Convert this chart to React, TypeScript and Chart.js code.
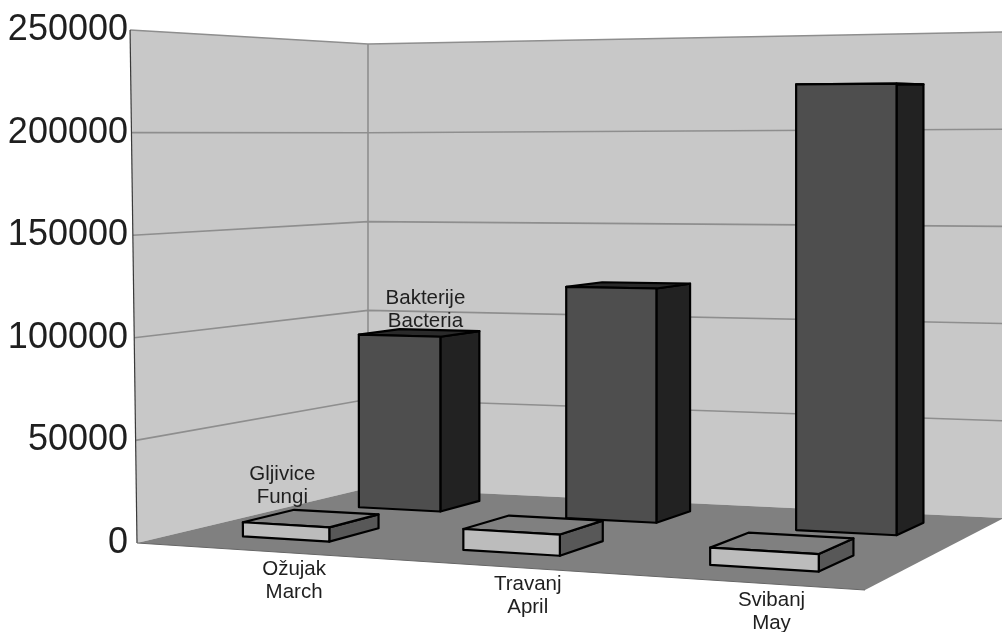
import React, { useEffect, useRef } from "react";
import { Chart, registerables } from "chart.js";

Chart.register(...registerables);

const categories = ["Ožujak\nMarch", "Travanj\nApril", "Svibanj\nMay"];
const bacteria = [92000, 119500, 223000];
const fungi = [7000, 10000, 8000];
const seriesNames = ["Bakterije\nBacteria", "Gljivice\nFungi"];
const yTicks = [0, 50000, 100000, 150000, 200000, 250000];

const FONT = '"Liberation Sans", Arial, sans-serif';
const INK = "#1f1f1f";

// Perspective frame of the 3D box: floor plane corners, wall heights at corners.
const P00 = [137, 543], P10 = [865, 590], P11 = [1004, 518], P01 = [368, 488];
const H00 = 513, H10 = 570, H01 = 444;
const H11Inv = 1 / 486;
// Where along the floor's front edge each category caption sits.
const captionU = [0.247, 0.58, 0.89];

const sx = P00[0] - P10[0] + P11[0] - P01[0];
const sy = P00[1] - P10[1] + P11[1] - P01[1];
const dx1 = P10[0] - P11[0], dy1 = P10[1] - P11[1];
const dx2 = P01[0] - P11[0], dy2 = P01[1] - P11[1];
const den = dx1 * dy2 - dx2 * dy1;
const g = (sx * dy2 - dx2 * sy) / den;
const h = (dx1 * sy - sx * dy1) / den;
const a = P10[0] - P00[0] + g * P10[0];
const b = P01[0] - P00[0] + h * P01[0];
const d = P10[1] - P00[1] + g * P10[1];
const e = P01[1] - P00[1] + h * P01[1];

function project(u: number, v: number, t: number): [number, number] {
  const w = g * u + h * v + 1;
  const x = (a * u + b * v + P00[0]) / w;
  const y = (d * u + e * v + P00[1]) / w;
  const inv = 1 / H00 + (1 / H10 - 1 / H00) * u + (1 / H01 - 1 / H00) * v;
  const adj = (H11Inv - (1 / H10 + 1 / H01 - 1 / H00)) * u * v;
  const H = 1 / (inv + adj);
  const lean = Math.max(0, P01[0] - x) * 0.03 * t;
  return [x - lean, y - H * t];
}

function poly(ctx: CanvasRenderingContext2D, pts: [number, number][], fill: string | null, stroke?: string, lw = 1) {
  ctx.beginPath();
  pts.forEach((p, i) => (i ? ctx.lineTo(p[0], p[1]) : ctx.moveTo(p[0], p[1])));
  ctx.closePath();
  if (fill) {
    ctx.fillStyle = fill;
    ctx.fill();
  }
  if (stroke) {
    ctx.strokeStyle = stroke;
    ctx.lineWidth = lw;
    ctx.lineJoin = "round";
    ctx.stroke();
  }
}

function line(ctx: CanvasRenderingContext2D, pts: [number, number][], stroke: string, lw: number) {
  ctx.beginPath();
  pts.forEach((p, i) => (i ? ctx.lineTo(p[0], p[1]) : ctx.moveTo(p[0], p[1])));
  ctx.strokeStyle = stroke;
  ctx.lineWidth = lw;
  ctx.stroke();
}

function multiline(ctx: CanvasRenderingContext2D, text: string, x: number, y: number) {
  ctx.font = `20.5px ${FONT}`;
  ctx.fillStyle = INK;
  ctx.textAlign = "center";
  ctx.textBaseline = "middle";
  text.split("\n").forEach((s, i) => ctx.fillText(s, x, y + i * 23));
}

const depthRows = [
  { front: 0.67, back: 0.87, colors: { front: "#4e4e4e", side: "#222222", top: "#2a2a2a" } },
  { front: 0.165, back: 0.378, colors: { front: "#bcbcbc", side: "#585858", top: "#808080" } },
];

const scene3d = {
  id: "scene3d",
  beforeDatasetsDraw(chart: any) {
    const { ctx, chartArea, scales } = chart;
    const ys = scales.y;
    const frac = (val: number) => (ys.getPixelForValue(0) - ys.getPixelForValue(val)) / (chartArea.bottom - chartArea.top);
    ctx.save();
    // walls
    poly(ctx, [project(0, 0, 0), project(0, 1, 0), project(0, 1, 1), project(0, 0, 1)], "#c8c8c8");
    poly(ctx, [project(0, 1, 0), project(1, 1, 0), project(1, 1, 1), project(0, 1, 1)], "#c8c8c8");
    // floor
    poly(ctx, [project(0, 0, 0), project(1, 0, 0), project(1, 1, 0), project(0, 1, 0)], "#808080");
    // grid lines
    yTicks.slice(1).forEach((val) => {
      const t = frac(val);
      line(ctx, [project(0, 0, t), project(0, 1, t), project(1, 1, t)], "#8e8e8e", 1.6);
    });
    line(ctx, [project(0, 1, 0), project(0, 1, 1)], "#8e8e8e", 1.6);
    line(ctx, [project(0, 0, 0), project(0, 0, 1)], "#3a3a3a", 1.2);
    line(ctx, [project(0, 0, 0), project(1, 0, 0)], "#666666", 1);

    const toU = (x: number) => ((x - chartArea.left) / (chartArea.right - chartArea.left)) * 1.01 + 0.002;

    [0, 1].forEach((dsIndex) => {
      const row = depthRows[dsIndex];
      chart.getDatasetMeta(dsIndex).data.forEach((el: any) => {
        const u0 = toU(el.x - el.width / 2);
        const u1 = toU(el.x + el.width / 2);
        const t = (el.base - el.y) / (chartArea.bottom - chartArea.top);
        const { front: v0, back: v1 } = row;
        const c = row.colors;
        poly(ctx, [project(u1, v0, 0), project(u1, v1, 0), project(u1, v1, t), project(u1, v0, t)], c.side, "#000", 2.2);
        poly(ctx, [project(u0, v0, t), project(u1, v0, t), project(u1, v1, t), project(u0, v1, t)], c.top, "#000", 2.2);
        poly(ctx, [project(u0, v0, 0), project(u1, v0, 0), project(u1, v0, t), project(u0, v0, t)], c.front, "#000", 2.2);
      });
    });

    // category captions just under the floor's front edge
    categories.forEach((name, i) => {
      const p = project(captionU[i], 0, 0);
      multiline(ctx, name, p[0], p[1] + 16);
    });

    // series labels above the first category's bars
    const first = chart.getDatasetMeta(0).data[0];
    const secondFirst = chart.getDatasetMeta(1).data[0];
    const bt = (first.base - first.y) / (chartArea.bottom - chartArea.top);
    const ft = (secondFirst.base - secondFirst.y) / (chartArea.bottom - chartArea.top);
    const pb = project(toU(first.x), 0.81, bt);
    multiline(ctx, seriesNames[0], pb[0] - 2, pb[1] - 33);
    const pf = project(toU(secondFirst.x), 0.172, ft);
    multiline(ctx, seriesNames[1], pf[0] - 5, pf[1] - 50);
    ctx.restore();
  },
};

export default function App() {
  const ref = useRef<HTMLCanvasElement | null>(null);
  useEffect(() => {
    const chart = new Chart(ref.current as HTMLCanvasElement, {
      type: "bar",
      data: {
        labels: categories.map((c) => c.split("\n")),
        datasets: [
          { label: seriesNames[0], data: bacteria, backgroundColor: "transparent", borderWidth: 0, grouped: false, barPercentage: 0.405, categoryPercentage: 1 },
          { label: seriesNames[1], data: fungi, backgroundColor: "transparent", borderWidth: 0, grouped: false, barPercentage: 0.405, categoryPercentage: 1 },
        ],
      } as any,
      options: {
        responsive: false,
        animation: false,
        devicePixelRatio: 1,
        layout: { padding: { top: 30, bottom: 89, left: 0, right: 0 } },
        plugins: { legend: { display: false }, tooltip: { enabled: false } },
        scales: {
          x: { display: false },
          y: {
            min: 0,
            max: 250000,
            afterFit: (s: any) => {
              s.width = 130;
            },
            afterBuildTicks: (s: any) => {
              s.ticks = yTicks.map((value) => ({ value }));
            },
            border: { display: false },
            grid: { display: false, drawTicks: false },
            ticks: {
              color: INK,
              padding: 2,
              font: { family: FONT, size: 36 },
              callback: (value: any) => String(value),
            },
          },
        },
      } as any,
      plugins: [scene3d],
    });
    return () => chart.destroy();
  }, []);
  return (
    <div style={{ position: "absolute", left: 0, top: 0, width: 1002, height: 632, background: "#fff" }}>
      <canvas ref={ref} width={1002} height={632} style={{ display: "block" }} />
    </div>
  );
}
